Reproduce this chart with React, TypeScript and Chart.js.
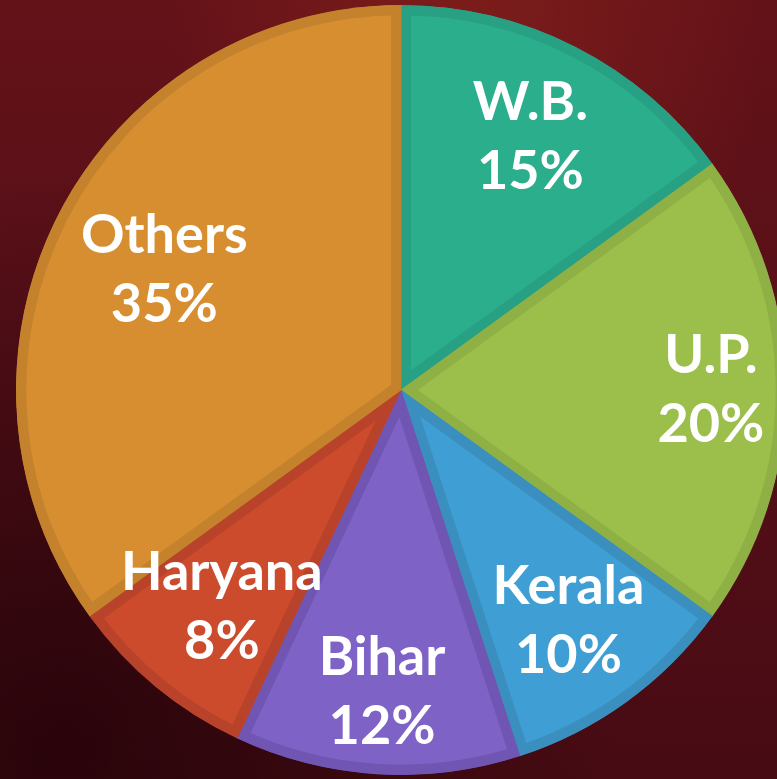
import React, { useEffect, useRef } from "react";
import { Chart, registerables } from "chart.js";

Chart.register(...registerables);

const states = ["W.B.", "U.P.", "Kerala", "Bihar", "Haryana", "Others"];
const shares = [15, 20, 10, 12, 8, 35];
const fillColors = ["#2BAE8B", "#9BBF4A", "#3F9ED3", "#7E62C6", "#CC4B2D", "#D78E31"];
const edgeColors = ["#28A083", "#8EB045", "#3A8FBF", "#7055B2", "#B9432A", "#C4822C"];
// label distance from centre, as a fraction of the radius
const labelRadius = [0.74, 0.805, 0.74, 0.785, 0.73, 0.69];

const labelPlugin = {
  id: "sliceLabels",
  afterDatasetsDraw(chart: any) {
    const ctx = chart.ctx;
    const meta = chart.getDatasetMeta(0);
    ctx.save();
    ctx.fillStyle = "#FFFFFF";
    ctx.textAlign = "center";
    ctx.textBaseline = "middle";
    ctx.font = "bold 54px Lato, 'Open Sans', sans-serif";
    const total = shares.reduce((a, b) => a + b, 0);
    meta.data.forEach((arc: any, i: number) => {
      const { x, y, startAngle, endAngle, outerRadius } = arc.getProps(
        ["x", "y", "startAngle", "endAngle", "outerRadius"],
        true
      );
      const mid = (startAngle + endAngle) / 2;
      const r = outerRadius * labelRadius[i];
      const cx = x + Math.cos(mid) * r;
      const cy = y + Math.sin(mid) * r;
      const pct = Math.round((shares[i] / total) * 100) + "%";
      ctx.fillText(states[i], cx, cy - 34);
      ctx.fillText(pct, cx, cy + 35);
    });
    ctx.restore();
  },
};

export default function App() {
  const ref = useRef<HTMLCanvasElement | null>(null);
  useEffect(() => {
    if (!ref.current) return;
    const chart = new Chart(ref.current, {
      type: "pie",
      data: {
        labels: states,
        datasets: [
          {
            data: shares,
            backgroundColor: fillColors,
            borderColor: edgeColors,
            borderWidth: 10,
            borderAlign: "inner",
            borderJoinStyle: "miter",
          } as any,
        ],
      },
      options: {
        animation: false,
        responsive: true,
        maintainAspectRatio: false,
        radius: 385,
        layout: { padding: 0 },
        plugins: {
          legend: { display: false },
          tooltip: { enabled: false },
        },
      } as any,
      plugins: [labelPlugin],
    });
    return () => chart.destroy();
  }, []);

  return (
    <div
      style={{
        position: "fixed",
        left: 0,
        top: 0,
        width: 777,
        height: 779,
        overflow: "hidden",
        background:
          "radial-gradient(ellipse at 60% 5%, rgba(150,40,30,0.5) 0%, rgba(120,25,25,0) 45%), radial-gradient(ellipse at 8% 95%, rgba(25,0,6,0.65) 0%, rgba(30,0,8,0) 55%), linear-gradient(180deg, #641218 0%, #560F18 50%, #470B13 100%)",
      }}
    >
      <div style={{ position: "absolute", left: 16, top: 5, width: 770, height: 770 }}>
        <canvas ref={ref} />
      </div>
    </div>
  );
}
